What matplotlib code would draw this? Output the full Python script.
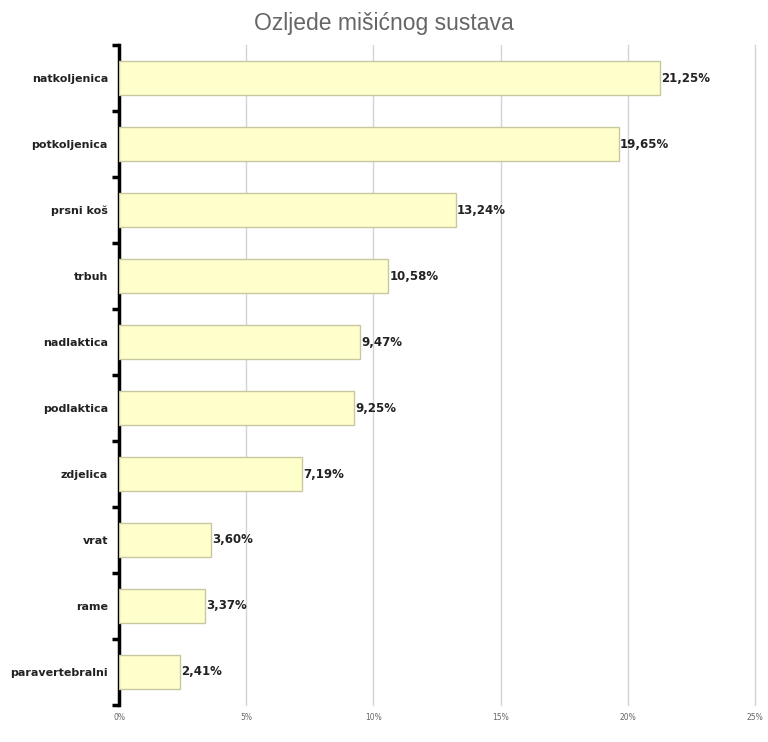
import matplotlib
matplotlib.use("Agg")
import matplotlib.pyplot as plt

categories = ["natkoljenica", "potkoljenica", "prsni koš", "trbuh", "nadlaktica",
              "podlaktica", "zdjelica", "vrat", "rame", "paravertebralni"]
values = [21.25, 19.65, 13.24, 10.58, 9.47, 9.25, 7.19, 3.60, 3.37, 2.41]
value_labels = ["21,25%", "19,65%", "13,24%", "10,58%", "9,47%",
                "9,25%", "7,19%", "3,60%", "3,37%", "2,41%"]
xticks = [0, 5, 10, 15, 20, 25]
xtick_labels = ["0%", "5%", "10%", "15%", "20%", "25%"]

fig = plt.figure(figsize=(7.68, 7.42), dpi=100)
ax = fig.add_axes([0.155, 0.050, 0.828, 0.889])

n = len(categories)
ypos = list(range(n))
ax.barh(ypos, values, height=0.52, color="#FFFFCC", edgecolor="#C8C8A0", linewidth=1.0, zorder=3)
ax.set_ylim(n - 0.5, -0.5)
ax.set_xlim(0, 25)

for y, v, lab in zip(ypos, values, value_labels):
    ax.text(v + 0.05, y, lab, va="center", ha="left", fontsize=8.5, fontweight="bold", color="#222222")

ax.set_xticks(xticks)
ax.set_xticklabels(xtick_labels, fontsize=5.5, color="#666666")
ax.tick_params(axis="x", length=0, pad=6)
for x in xticks[1:]:
    ax.axvline(x, color="#D4D4D4", linewidth=1.0, zorder=0, clip_on=False)

ax.set_yticks(ypos)
ax.set_yticklabels(categories, fontsize=8, fontweight="bold", color="#222222")
ax.tick_params(axis="y", which="major", length=0, pad=8)
ax.set_yticks([i - 0.5 for i in range(n + 1)], minor=True)
ax.tick_params(axis="y", which="minor", length=5, width=2.5, color="black", direction="out")

for s in ["top", "right", "bottom"]:
    ax.spines[s].set_visible(False)
ax.spines["left"].set_linewidth(2.5)
ax.spines["left"].set_color("black")

fig.text(0.5, 0.968, "Ozljede mišićnog sustava", ha="center", va="center",
         fontsize=16.5, color="#666666", family="Liberation Sans")

fig.savefig("out.png", dpi=100, facecolor="white")
